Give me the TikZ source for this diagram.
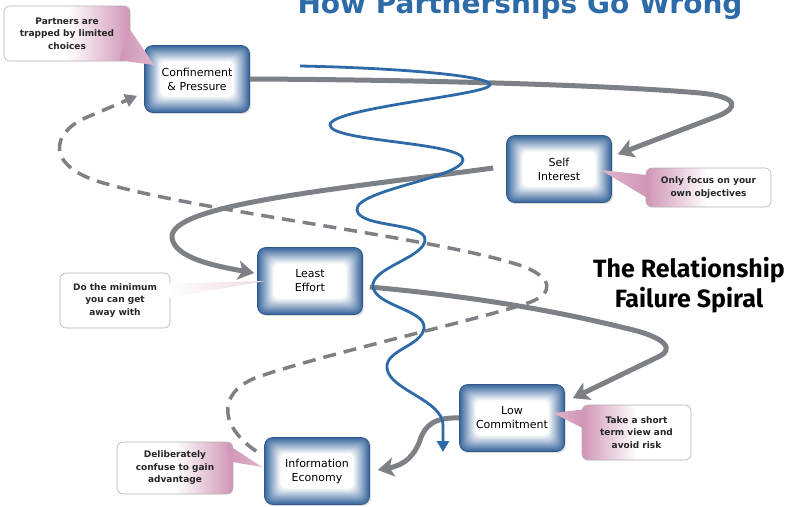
\documentclass[tikz,border=0pt]{standalone}
\usepackage{fontspec}
\setmainfont{DejaVu Sans}
\newfontfamily\headfont{Fira Sans}
\usetikzlibrary{arrows.meta, calc, shadows}
\definecolor{stageblue}{RGB}{58,104,158}
\definecolor{wavecolor}{RGB}{46,106,168}
\definecolor{flowgray}{RGB}{125,128,133}
\definecolor{notepink}{RGB}{196,122,162}
\definecolor{titleblue}{RGB}{45,106,168}

\begin{document}
\begin{tikzpicture}[
    x=1pt, y=-1pt,
    stage/.style={rectangle, draw=stageblue!85!black, line width=0.6pt, rounded corners=8pt,
      minimum width=105pt, minimum height=67pt, align=center,
      font=\fontsize{11}{14}\selectfont, text=black, fill=stageblue,
      drop shadow={opacity=0.25, shadow xshift=1.5pt, shadow yshift=-1.5pt},
      path picture={
        \foreach \k [evaluate=\k as \tint using int(100-6.25*\k)] in {1,...,16}
          \fill[stageblue!\tint!white, rounded corners=6pt]
            ($(path picture bounding box.south west)+(\k pt,\k pt)$) rectangle
            ($(path picture bounding box.north east)+(-\k pt,-\k pt)$);
      }},
    note/.style={rectangle, draw=black!30, line width=0.6pt, rounded corners=6pt, align=center,
      font=\bfseries\fontsize{9}{12.5}\selectfont, text=black!85},
    flow/.style={draw=flowgray, line width=5pt, -{Stealth[length=16pt, width=19pt, inset=4pt]}},
    back/.style={draw=flowgray, line width=3.5pt, dash pattern=on 13pt off 8pt,
      -{Triangle[length=12pt, width=13pt]}},
    wave/.style={draw=wavecolor, line width=2.8pt, -{Triangle[length=11pt, width=12pt]}}
]
\useasboundingbox (0,0) rectangle (789,506);

% headings
\node[font=\bfseries\fontsize{28}{30}\selectfont, text=titleblue, anchor=base] (title) at (520,13) {How Partnerships Go Wrong};
\node[font=\headfont\bfseries\fontsize{25}{30}\selectfont, align=center] (caption) at (689,285) {The Relationship\\Failure Spiral};

% the five stages
\node[stage] (conf) at (197,79) {Confinement\\\& Pressure};
\node[stage] (self) at (559,169) {Self\\Interest};
\node[stage] (least) at (310,281) {Least\\Effort};
\node[stage] (low) at (512,418) {Low\\Commitment};
\node[stage] (info) at (317,471) {Information\\Economy};

% callouts
\node[note, minimum width=126pt, minimum height=55pt, left color=white, right color=notepink!80!white, middle color=white] (trapped) at (67,33.5) {Partners are\\trapped by limited\\choices};
\node[note, minimum width=125pt, minimum height=39pt, left color=notepink!80!white, right color=white, middle color=white] (focus) at (708.5,187.5) {Only focus on your\\own objectives};
\node[note, minimum width=110pt, minimum height=55pt, fill=white] (minimum) at (115,300.5) {Do the minimum\\you can get\\away with};
\node[note, minimum width=109pt, minimum height=55pt, left color=notepink!80!white, right color=white, middle color=white] (short) at (636.5,432.5) {Take a short\\term view and\\avoid risk};
\node[note, minimum width=116pt, minimum height=52pt, left color=white, right color=notepink!80!white, middle color=white] (confuse) at (175,468) {Deliberately\\confuse to gain\\advantage};

% callout pointers
\shade[left color=notepink!80!white, right color=notepink!55!white] ($(trapped.east)+(-1,-5)$) -- ($(trapped.south east)+(-11,-1)$) -- ($(conf.west)+(10,-14)$) -- cycle;
\shade[left color=notepink!55!white, right color=notepink!80!white] ($(self.east)+(-11,1)$) -- ($(focus.west)+(1,-12.5)$) -- ($(focus.west)+(4,12)$) -- cycle;
\shade[left color=white, middle color=notepink, right color=notepink!30!white] ($(minimum.east)+(-2,-17)$) -- ($(least.west)+(8,0)$) -- ($(minimum.east)+(-1,-3)$) -- cycle;
\shade[left color=notepink!55!white, right color=notepink!80!white] ($(low.east)+(-12,-5)$) -- ($(short.west)+(1,-23)$) -- ($(short.west)+(2,-4)$) -- cycle;
\shade[left color=notepink!80!white, right color=notepink!55!white] ($(confuse.north east)+(-7,2)$) -- ($(info.west)+(-2,-4)$) -- ($(confuse.east)+(-1,-6)$) -- cycle;

% the spiral of stages
\draw[flow] (conf.east) .. controls (450,80) and (620,86) .. (700,93)
  .. controls (740,97) and (738,108) .. (718,116) -- ($(self.north east)+(6,19)$);
\draw[flow] ($(self.west)+(-13,-1)$) .. controls (330,190) and (168,205) .. (172,238)
  .. controls (175,258) and (215,266) .. ($(least.west)+(-3,-8)$);
\draw[flow] ($(least.east)+(7,6)$) .. controls (480,297) and (560,312) .. (625,328)
  .. controls (670,338) and (672,350) .. (660,356) -- ($(low.north east)+(8,14)$);
\draw[flow] (low.west) .. controls (435,417) and (425,425) .. (420,440)
  .. controls (415,455) and (405,465) .. ($(info.east)+(8,-1)$);

% way back round
\draw[back] ($(info.north west)+(-8,14)$) .. controls (222,428) and (215,395) .. (255,378)
  .. controls (320,355) and (470,322) .. (528,303)
  .. controls (556,293) and (552,277) .. (522,266)
  .. controls (440,238) and (200,212) .. (100,182)
  .. controls (45,165) and (52,133) .. (85,118) -- ($(conf.south west)+(-7,-17)$);

% downward wave
\coordinate (wavetop) at (300,66);
\coordinate (wavebottom) at (443,452);
\draw[wave] (wavetop) .. controls (400,68) and (492,76) .. (490,85)
  .. controls (488,95) and (330,108) .. (330,125)
  .. controls (330,142) and (465,142) .. (463,160)
  .. controls (461,178) and (355,190) .. (357,210)
  .. controls (359,228) and (426,222) .. (425,240)
  .. controls (424,258) and (370,268) .. (373,287)
  .. controls (376,306) and (426,310) .. (424,328)
  .. controls (422,346) and (385,350) .. (387,368)
  .. controls (389,390) and (443,400) .. (443,425) -- (wavebottom);

\end{tikzpicture}
\end{document}
